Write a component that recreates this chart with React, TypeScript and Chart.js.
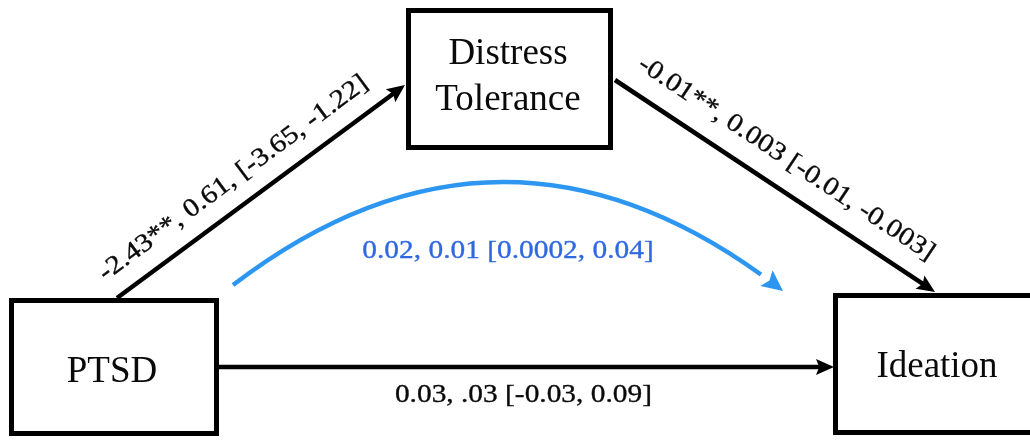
import React, { useEffect, useRef } from 'react';
import { Chart, registerables } from 'chart.js';

Chart.register(...registerables);

// ---------------- data ----------------
const nodeNames: string[][] = [['PTSD'], ['Distress', 'Tolerance'], ['Ideation']];
const pathLabels: string[] = [
  '-2.43**, 0.61, [-3.65, -1.22]',
  '-0.01**, 0.003 [-0.01, -0.003]',
  '0.03, .03 [-0.03, 0.09]',
];
const indirectLabel = '0.02, 0.01 [0.0002, 0.04]';

// ---------------- layout (diagram plane 1030 x 440) ----------------
const W = 1030;
const H = 440;
const boxLeft = [11.5, 408.5, 835.5];
const boxRight = [216.5, 610.5, 1040];
const boxTop = [300.5, 10.5, 295.5];
const boxBottom = [433.5, 147.5, 432.5];
const nodeTextX = [112, 508, 937];
const nodeTextBaselines = [[382], [64, 110], [377]];
const pathStart = [[117, 298], [615, 80], [219, 367]];
const pathEnd = [[405, 85], [935, 292], [834, 367]];
const labelAlong = [0.46, 0.485, 0.495];
const labelOffset = [27, 29, -28];
const arcStart = [233, 285];
const arcControl = [507, 76];
const arcEnd = [783, 291];
const arcLabelPos = [508, 251.5];

const BLACK = '#000000';
const TEXT = '#0a0a0a';
const ARC_BLUE = '#2d96f0';
const LABEL_BLUE = '#3068e2';
const SERIF = '"Liberation Serif", "Times New Roman", serif';
const LABEL_SIZE = 26;
const STRETCH = 1.13;
const ARROW_LEN = 18;
const ARROW_HALF = 8;

function shorten(s: number[], e: number[], by: number) {
  const dx = e[0] - s[0];
  const dy = e[1] - s[1];
  const len = Math.hypot(dx, dy);
  return { x: e[0] - (dx / len) * by, y: e[1] - (dy / len) * by };
}

const diagramPlugin = {
  id: 'diagram',
  afterDatasetsDraw(chart: any) {
    const ctx: CanvasRenderingContext2D = chart.ctx;
    const sx = chart.scales.x;
    const sy = chart.scales.y;
    const px = (v: number) => sx.getPixelForValue(v);
    const py = (v: number) => sy.getPixelForValue(v);

    const arrowHead = (tx: number, ty: number, ang: number, len: number, half: number, color: string) => {
      ctx.save();
      ctx.translate(tx, ty);
      ctx.rotate(ang);
      ctx.beginPath();
      ctx.moveTo(0, 0);
      ctx.lineTo(-len, -half);
      ctx.lineTo(-len * 0.82, 0);
      ctx.lineTo(-len, half);
      ctx.closePath();
      ctx.fillStyle = color;
      ctx.fill();
      ctx.restore();
    };

    const stretchedText = (text: string, x: number, y: number, ang: number, color: string) => {
      ctx.save();
      ctx.translate(x, y);
      ctx.rotate(ang);
      ctx.scale(STRETCH, 1);
      ctx.font = `${LABEL_SIZE}px ${SERIF}`;
      ctx.fillStyle = color;
      ctx.strokeStyle = color;
      ctx.lineWidth = 0.35;
      ctx.textAlign = 'center';
      ctx.textBaseline = 'middle';
      ctx.fillText(text, 0, 0);
      ctx.strokeText(text, 0, 0);
      ctx.restore();
    };

    // arrowheads + path labels
    pathStart.forEach((s, i) => {
      const e = pathEnd[i];
      const x0 = px(s[0]), y0 = py(s[1]), x1 = px(e[0]), y1 = py(e[1]);
      const ang = Math.atan2(y1 - y0, x1 - x0);
      arrowHead(x1, y1, ang, ARROW_LEN, ARROW_HALF, BLACK);
      const len = Math.hypot(x1 - x0, y1 - y0);
      const ux = (x1 - x0) / len, uy = (y1 - y0) / len;
      const nx = uy, ny = -ux;
      const t = labelAlong[i] * len;
      const cx = x0 + ux * t + nx * labelOffset[i];
      const cy = y0 + uy * t + ny * labelOffset[i];
      stretchedText(pathLabels[i], cx, cy, ang, TEXT);
    });

    // indirect effect arc
    const p0 = [px(arcStart[0]), py(arcStart[1])];
    const p1 = [px(arcControl[0]), py(arcControl[1])];
    const p2 = [px(arcEnd[0]), py(arcEnd[1])];
    const tt = 0.96;
    const q = (a: number, b: number, c: number) => (1 - tt) * (1 - tt) * a + 2 * (1 - tt) * tt * b + tt * tt * c;
    const c1 = [p0[0] + tt * (p1[0] - p0[0]), p0[1] + tt * (p1[1] - p0[1])];
    const end = [q(p0[0], p1[0], p2[0]), q(p0[1], p1[1], p2[1])];
    ctx.save();
    ctx.beginPath();
    ctx.moveTo(p0[0], p0[1]);
    ctx.quadraticCurveTo(c1[0], c1[1], end[0], end[1]);
    ctx.strokeStyle = ARC_BLUE;
    ctx.lineWidth = 4.5;
    ctx.lineCap = 'butt';
    ctx.stroke();
    ctx.restore();
    arrowHead(p2[0], p2[1], Math.atan2(p2[1] - p1[1], p2[0] - p1[0]), 21, 10, ARC_BLUE);
    stretchedText(indirectLabel, px(arcLabelPos[0]), py(arcLabelPos[1]), 0, LABEL_BLUE);

    // node labels
    ctx.save();
    ctx.font = `37px ${SERIF}`;
    ctx.fillStyle = TEXT;
    ctx.textAlign = 'center';
    ctx.textBaseline = 'alphabetic';
    nodeNames.forEach((lines, i) => {
      lines.forEach((ln, j) => {
        ctx.fillText(ln, px(nodeTextX[i]), py(nodeTextBaselines[i][j]));
      });
    });
    ctx.restore();
  },
};

export default function App() {
  const canvasRef = useRef<HTMLCanvasElement | null>(null);

  useEffect(() => {
    if (!canvasRef.current) return;
    const boxes = boxLeft.map((l, i) => ({
      type: 'line',
      data: [
        { x: l, y: boxTop[i] },
        { x: boxRight[i], y: boxTop[i] },
        { x: boxRight[i], y: boxBottom[i] },
        { x: l, y: boxBottom[i] },
        { x: l, y: boxTop[i] },
      ],
      borderColor: BLACK,
      borderWidth: 5,
      borderJoinStyle: 'miter',
      borderCapStyle: 'square',
      pointRadius: 0,
      fill: false,
      tension: 0,
      showLine: true,
    }));
    const edges = pathStart.map((s, i) => ({
      type: 'line',
      data: [{ x: s[0], y: s[1] }, shorten(s, pathEnd[i], 10)],
      borderColor: BLACK,
      borderWidth: 4.5,
      borderCapStyle: 'butt',
      pointRadius: 0,
      fill: false,
      tension: 0,
      showLine: true,
    }));

    const chart = new Chart(canvasRef.current, {
      type: 'scatter',
      data: { datasets: [...edges, ...boxes] as any },
      options: {
        animation: false,
        responsive: false,
        maintainAspectRatio: false,
        events: [],
        layout: { padding: 0 },
        plugins: { legend: { display: false }, tooltip: { enabled: false } },
        scales: {
          x: { type: 'linear', min: 0, max: W, display: false },
          y: { type: 'linear', min: 0, max: H, reverse: true, display: false },
        },
      } as any,
      plugins: [diagramPlugin],
    });
    return () => chart.destroy();
  }, []);

  return (
    <div style={{ position: 'absolute', left: 0, top: 0, width: W, height: H, background: '#fff' }}>
      <canvas ref={canvasRef} width={W} height={H} style={{ display: 'block' }} />
    </div>
  );
}
